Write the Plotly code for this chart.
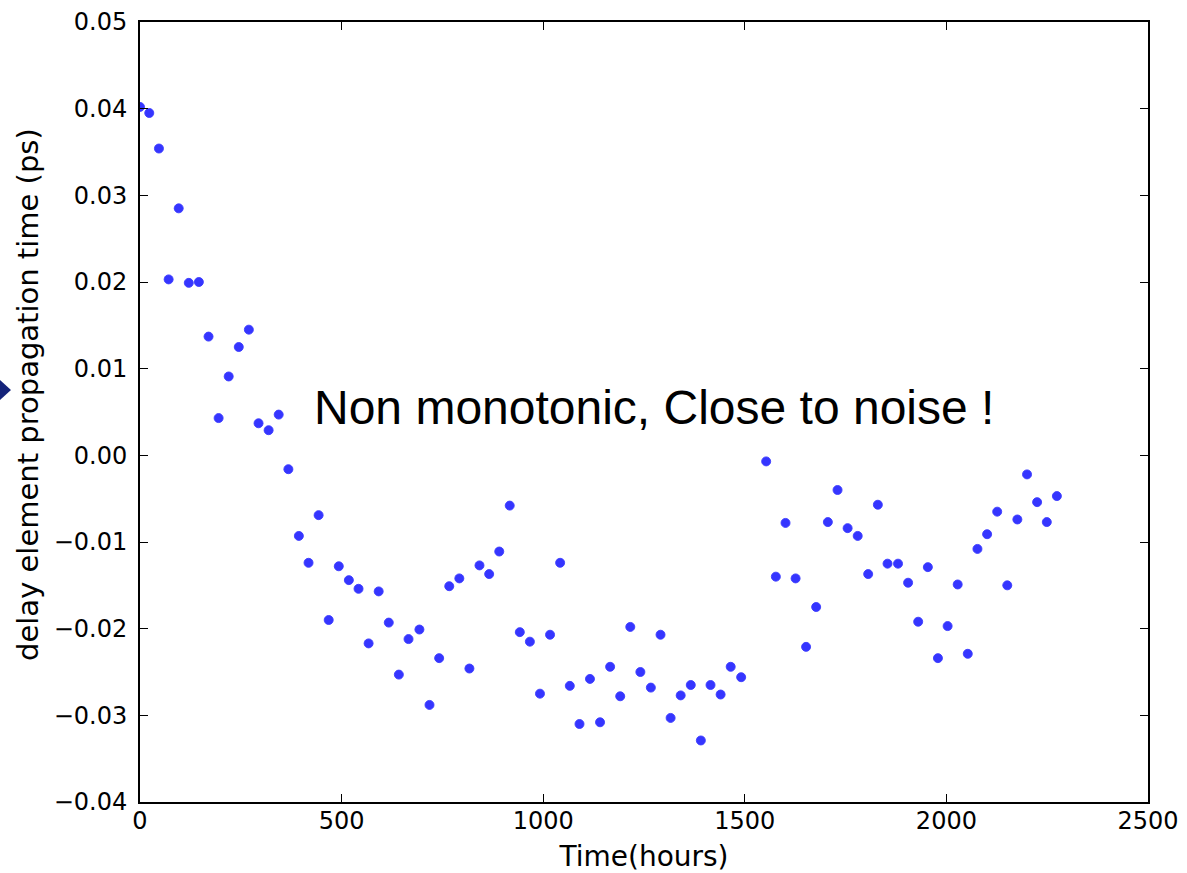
import plotly.graph_objects as go

# Time in hours
hours = [0, 23, 47, 71, 96, 121, 146, 170, 195, 220, 245, 270, 294, 319, 344,
         368, 394, 418, 443, 468, 493, 518, 542, 567, 592, 617, 642, 666, 693, 718,
         742, 767, 792, 817, 842, 866, 891, 917, 942, 967, 992, 1017, 1042, 1066, 1090,
         1116, 1141, 1166, 1191, 1216, 1241, 1267, 1291, 1316, 1341, 1366, 1391, 1415, 1440, 1465,
         1491, 1553, 1577, 1601, 1626, 1652, 1677, 1706, 1730, 1755, 1780, 1806, 1830, 1854, 1880,
         1905, 1930, 1954, 1979, 2003, 2028, 2053, 2077, 2101, 2126, 2151, 2176, 2200, 2225, 2249,
         2274]

# Delay element propagation time (ps)
delay = [0.0402, 0.0395, 0.0354, 0.0203, 0.0285, 0.0199, 0.0200, 0.0137, 0.0043, 0.0091,
         0.0125, 0.0145, 0.0037, 0.0029, 0.0047, -0.0016, -0.0093, -0.0124, -0.0069, -0.0190,
         -0.0128, -0.0144, -0.0154, -0.0217, -0.0157, -0.0193, -0.0253, -0.0212, -0.0201, -0.0288,
         -0.0234, -0.0151, -0.0142, -0.0246, -0.0127, -0.0137, -0.0111, -0.0058, -0.0204, -0.0215,
         -0.0275, -0.0207, -0.0124, -0.0266, -0.0310, -0.0258, -0.0308, -0.0244, -0.0278, -0.0198,
         -0.0250, -0.0268, -0.0207, -0.0303, -0.0277, -0.0265, -0.0329, -0.0265, -0.0276, -0.0244,
         -0.0256, -0.0007, -0.0140, -0.0078, -0.0142, -0.0221, -0.0175, -0.0077, -0.0040, -0.0084,
         -0.0093, -0.0137, -0.0057, -0.0125, -0.0125, -0.0147, -0.0192, -0.0129, -0.0234, -0.0197,
         -0.0149, -0.0229, -0.0108, -0.0091, -0.0065, -0.0150, -0.0074, -0.0022, -0.0054, -0.0077,
         -0.0047]

x_ticks = [0, 500, 1000, 1500, 2000, 2500]
y_ticks = [-0.04, -0.03, -0.02, -0.01, 0.00, 0.01, 0.02, 0.03, 0.04, 0.05]
y_tick_labels = ["\u22120.04", "\u22120.03", "\u22120.02", "\u22120.01", "0.00",
                 "0.01", "0.02", "0.03", "0.04", "0.05"]

fig = go.Figure()
fig.add_trace(go.Scatter(
    x=hours, y=delay, mode="markers",
    marker=dict(size=9, color="rgba(25,25,255,0.88)",
                line=dict(color="rgba(60,60,255,0.9)", width=1)),
    showlegend=False,
))

tick_font = dict(family="DejaVu Sans", size=24, color="black")
label_font = dict(family="DejaVu Sans", size=28, color="black")

fig.update_xaxes(
    range=[0, 2500], tickvals=x_ticks, ticktext=[str(v) for v in x_ticks],
    showgrid=False, zeroline=False,
    showline=True, linecolor="black", linewidth=2, mirror="allticks",
    ticks="inside", ticklen=8, tickwidth=1, tickcolor="black",
    tickfont=tick_font, ticklabelstandoff=-4,
    title=dict(text="Time(hours)", font=label_font, standoff=14),
)
fig.update_yaxes(
    range=[-0.04, 0.05], tickvals=y_ticks, ticktext=y_tick_labels,
    showgrid=False, zeroline=False,
    showline=True, linecolor="black", linewidth=2, mirror="allticks",
    ticks="inside", ticklen=8, tickwidth=1, tickcolor="black",
    tickfont=tick_font, ticklabelstandoff=6,
)

# y-axis title (placed as rotated text to match its position)
fig.add_annotation(
    x=-0.111, y=0.522, xref="paper", yref="paper",
    text="delay element propagation time (ps)", showarrow=False, textangle=-90,
    font=dict(family="DejaVu Sans", size=29, color="black"),
    xanchor="center", yanchor="middle",
)

fig.add_annotation(
    x=1275, y=0.0055, xref="x", yref="y",
    text="Non monotonic, Close to noise !", showarrow=False,
    font=dict(family="Liberation Sans", size=48, color="black"),
    xanchor="center", yanchor="middle",
)

# dark navy pointer at the left edge of the page
fig.add_shape(
    type="path", xref="paper", yref="paper",
    path="M -0.141,0.5436 L -0.128,0.5282 L -0.141,0.5128 Z",
    fillcolor="#14237a", line=dict(color="#14237a", width=0),
)

fig.update_layout(
    width=1187, height=873,
    margin=dict(l=140, r=39, t=22, b=71, autoexpand=False),
    paper_bgcolor="white", plot_bgcolor="white",
)

fig.write_html("out.html",
               config={"displayModeBar": False},
               post_script="document.body.style.margin='0';document.body.style.padding='0';"
                           "document.body.style.overflow='hidden';")
